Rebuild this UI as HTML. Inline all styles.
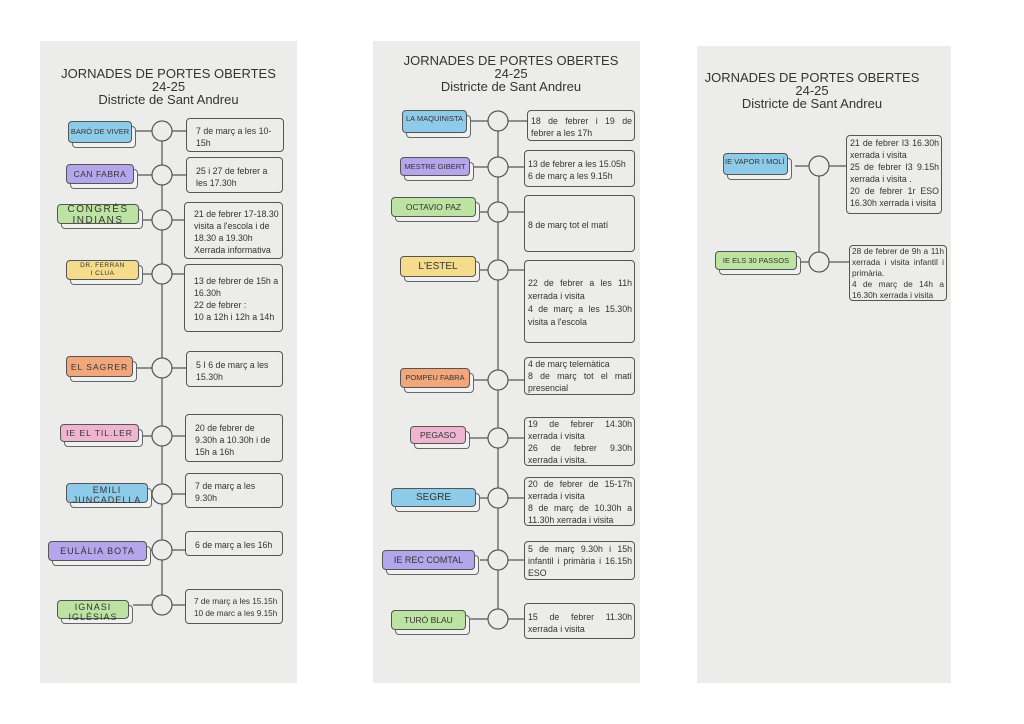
<!DOCTYPE html>
<html><head><meta charset="utf-8"><style>
*{margin:0;padding:0;box-sizing:border-box}
body{width:1024px;height:724px;background:#fff;position:relative;overflow:hidden;font-family:"Liberation Sans",sans-serif;color:#333}
.p{position:absolute;background:#ececea}
.t{position:absolute;text-align:center;font-size:13px;line-height:13px;color:#333}
.l{position:absolute;border:1px solid #555;border-radius:4px;font-size:8.5px;letter-spacing:.5px;color:#333;display:flex;align-items:center;justify-content:center;text-align:center;line-height:10px;box-shadow:4px 5px 0 -1px #f1f1f1,4px 5px 0 0 #666}
.b{position:absolute;border:1px solid #555;border-radius:4px;font-size:8.8px;line-height:12px;color:#333;padding:3px 3px 0 9px;display:flex;flex-direction:column;justify-content:center}
.j{text-align:justify;padding-left:3px;padding-right:2px;text-align-last:left}
.bl{background:#8ecbe8}.pu{background:#b3a6ea}.gr{background:#bde3a3}.ye{background:#f5dc8c}.or{background:#f2a77a}.pk{background:#eeb5d1}
svg{position:absolute;left:0;top:0}
</style></head><body>
<div class="p" style="left:40px;top:41px;width:257px;height:642px"></div>
<div class="p" style="left:373px;top:41px;width:267px;height:642px"></div>
<div class="p" style="left:697px;top:46px;width:254px;height:637px"></div>

<svg width="1024" height="724">
<g stroke="#555" stroke-width="1.2" fill="#ececea">
<line x1="162" y1="128" x2="162" y2="605"/>
<line x1="498" y1="120" x2="498" y2="620"/>
<line x1="819" y1="166" x2="819" y2="262"/>
<line x1="136" y1="131" x2="186" y2="131"/><line x1="137" y1="175" x2="186" y2="175"/>
<line x1="137" y1="220" x2="184" y2="220"/><line x1="132" y1="274" x2="184" y2="274"/>
<line x1="137" y1="368" x2="186" y2="368"/><line x1="143" y1="436" x2="185" y2="436"/>
<line x1="150" y1="494" x2="185" y2="494"/><line x1="150" y1="550" x2="185" y2="550"/>
<line x1="133" y1="605" x2="185" y2="605"/>
<line x1="471" y1="121" x2="527" y2="121"/><line x1="474" y1="167" x2="524" y2="167"/>
<line x1="473" y1="212" x2="524" y2="212"/><line x1="470" y1="270" x2="524" y2="270"/>
<line x1="474" y1="380" x2="524" y2="380"/><line x1="470" y1="438" x2="524" y2="438"/>
<line x1="480" y1="498" x2="524" y2="498"/><line x1="480" y1="560" x2="524" y2="560"/>
<line x1="470" y1="619" x2="524" y2="619"/>
<line x1="795" y1="166" x2="846" y2="166"/><line x1="801" y1="262" x2="849" y2="262"/>
<circle cx="162" cy="131" r="10"/><circle cx="162" cy="175" r="10"/><circle cx="162" cy="220" r="10"/>
<circle cx="162" cy="274" r="10"/><circle cx="162" cy="368" r="10"/><circle cx="162" cy="436" r="10"/>
<circle cx="162" cy="494" r="10"/><circle cx="162" cy="550" r="10"/><circle cx="162" cy="605" r="10"/>
<circle cx="498" cy="121" r="10"/><circle cx="498" cy="167" r="10"/><circle cx="498" cy="212" r="10"/>
<circle cx="498" cy="270" r="10"/><circle cx="498" cy="380" r="10"/><circle cx="498" cy="438" r="10"/>
<circle cx="498" cy="498" r="10"/><circle cx="498" cy="560" r="10"/><circle cx="498" cy="619" r="10"/>
<circle cx="819" cy="166" r="10"/><circle cx="819" cy="262" r="10"/>
</g></svg>

<div class="t" style="left:40px;top:67px;width:257px">JORNADES DE PORTES OBERTES<br>24-25<br>Districte de Sant Andreu</div>
<div class="t" style="left:373px;top:54px;width:276px">JORNADES DE PORTES OBERTES<br>24-25<br>Districte de Sant Andreu</div>
<div class="t" style="left:697px;top:71px;width:230px">JORNADES DE PORTES OBERTES<br>24-25<br>Districte de Sant Andreu</div>

<!-- panel 1 -->
<div class="l bl" style="left:68px;top:121px;width:64px;height:22px;font-size:7.5px;letter-spacing:0">BARÓ DE VIVER</div>
<div class="l pu" style="left:66px;top:164px;width:68px;height:20px">CAN FABRA</div>
<div class="l gr" style="left:57px;top:204px;width:82px;height:20px;font-size:10px;letter-spacing:1.5px;line-height:11px;padding-top:2px">CONGRÉS INDIANS</div>
<div class="l ye" style="left:66px;top:260px;width:73px;height:20px;font-size:6.5px;line-height:8px;padding:0 12px">DR. FERRAN I CLUA</div>
<div class="l or" style="left:66px;top:356px;width:67px;height:21px;font-size:8.5px;letter-spacing:1px">EL SAGRER</div>
<div class="l pk" style="left:60px;top:424px;width:79px;height:18px;font-size:8.5px;letter-spacing:1px">IE EL TIL.LER</div>
<div class="l bl" style="left:66px;top:483px;width:82px;height:20px;font-size:9px;letter-spacing:1px;padding-top:4px">EMILI JUNCADELLA</div>
<div class="l pu" style="left:48px;top:541px;width:99px;height:20px;font-size:9px;letter-spacing:1px">EULÀLIA BOTA</div>
<div class="l gr" style="left:57px;top:600px;width:72px;height:19px;font-size:9px;letter-spacing:1px;padding-top:4px">IGNASI IGLÉSIAS</div>

<div class="b" style="left:186px;top:118px;width:98px;height:34px">7 de març a les 10-15h</div>
<div class="b" style="left:186px;top:157px;width:97px;height:36px">25 i 27 de febrer a les 17.30h</div>
<div class="b" style="left:184px;top:202px;width:99px;height:57px">21 de febrer 17-18.30 visita a l'escola i de 18.30 a 19.30h Xerrada informativa</div>
<div class="b" style="left:184px;top:264px;width:99px;height:68px;justify-content:flex-start;padding-top:10px">13 de febrer de 15h a 16.30h<br>22 de febrer :<br>10 a 12h i 12h a 14h</div>
<div class="b" style="left:186px;top:351px;width:97px;height:36px">5 I 6 de març a les 15.30h</div>
<div class="b" style="left:185px;top:414px;width:98px;height:48px">20 de febrer de 9.30h a 10.30h i de 15h a 16h</div>
<div class="b" style="left:185px;top:473px;width:98px;height:35px">7 de març a les 9.30h</div>
<div class="b" style="left:185px;top:531px;width:98px;height:25px">6 de març a les 16h</div>
<div class="b" style="left:185px;top:589px;width:98px;height:35px;font-size:8.2px;padding-left:8px;white-space:nowrap">7 de març a les 15.15h<br>10 de marc a les 9.15h</div>

<!-- panel 2 -->
<div class="l bl" style="left:402px;top:110px;width:65px;height:23px;font-size:7.5px;letter-spacing:0;align-items:flex-start;padding-top:3px">LA MAQUINISTA</div>
<div class="l pu" style="left:400px;top:157px;width:70px;height:19px;font-size:7.5px;letter-spacing:0">MESTRE GIBERT</div>
<div class="l gr" style="left:391px;top:197px;width:85px;height:20px;letter-spacing:0">OCTAVIO PAZ</div>
<div class="l ye" style="left:400px;top:256px;width:76px;height:21px;font-size:10px;letter-spacing:0">L'ESTEL</div>
<div class="l or" style="left:400px;top:368px;width:70px;height:20px;font-size:7.5px;letter-spacing:0">POMPEU FABRA</div>
<div class="l pk" style="left:410px;top:426px;width:56px;height:18px;letter-spacing:0">PEGASO</div>
<div class="l bl" style="left:391px;top:488px;width:85px;height:19px;font-size:10px;letter-spacing:0">SEGRE</div>
<div class="l pu" style="left:382px;top:550px;width:93px;height:20px;font-size:9px;letter-spacing:0">IE REC COMTAL</div>
<div class="l gr" style="left:391px;top:610px;width:75px;height:20px;letter-spacing:0">TURÓ BLAU</div>

<div class="b j" style="left:527px;top:110px;width:108px;height:31px">18 de febrer i 19 de febrer a les 17h</div>
<div class="b j" style="left:524px;top:150px;width:111px;height:37px">13 de febrer a les 15.05h<br>6 de març a les 9.15h</div>
<div class="b j" style="left:524px;top:195px;width:111px;height:57px">8 de març tot el matí</div>
<div class="b j" style="left:524px;top:260px;width:111px;height:83px;line-height:13px">22 de febrer a les 11h xerrada i visita<br>4 de març a les 15.30h visita a l'escola</div>
<div class="b j" style="left:524px;top:357px;width:111px;height:38px;padding-top:0">4 de març telemàtica<br>8 de març tot el matí presencial</div>
<div class="b j" style="left:524px;top:417px;width:111px;height:49px;padding-top:0">19 de febrer 14.30h xerrada i visita<br>26 de febrer 9.30h xerrada i visita.</div>
<div class="b j" style="left:524px;top:477px;width:111px;height:49px;padding-top:0">20 de febrer de 15-17h xerrada i visita<br>8 de març de 10.30h a 11.30h xerrada i visita</div>
<div class="b j" style="left:524px;top:541px;width:111px;height:39px;padding-top:0">5 de març 9.30h i 15h infantil i primària i 16.15h ESO</div>
<div class="b j" style="left:524px;top:603px;width:111px;height:36px">15 de febrer 11.30h xerrada i visita</div>

<!-- panel 3 -->
<div class="l bl" style="left:723px;top:153px;width:65px;height:22px;font-size:7.5px;letter-spacing:0;align-items:flex-start;justify-content:flex-start;padding:3px 0 0 1px">IE VAPOR I MOLÍ</div>
<div class="l gr" style="left:715px;top:251px;width:82px;height:19px;font-size:7.5px;letter-spacing:0">IE ELS 30 PASSOS</div>
<div class="b j" style="left:846px;top:135px;width:96px;height:79px;justify-content:flex-start;padding-top:1px">21 de febrer I3 16.30h xerrada i visita<br>25 de febrer I3 9.15h xerrada i visita .<br>20 de febrer 1r ESO 16.30h xerrada i visita</div>
<div class="b j" style="left:849px;top:245px;width:98px;height:56px;padding:0 2px 0 2px;font-size:8.3px;line-height:11px">28 de febrer de 9h a 11h xerrada i visita infantil i primària.<br>4 de març de 14h a 16.30h xerrada i visita</div>
</body></html>
